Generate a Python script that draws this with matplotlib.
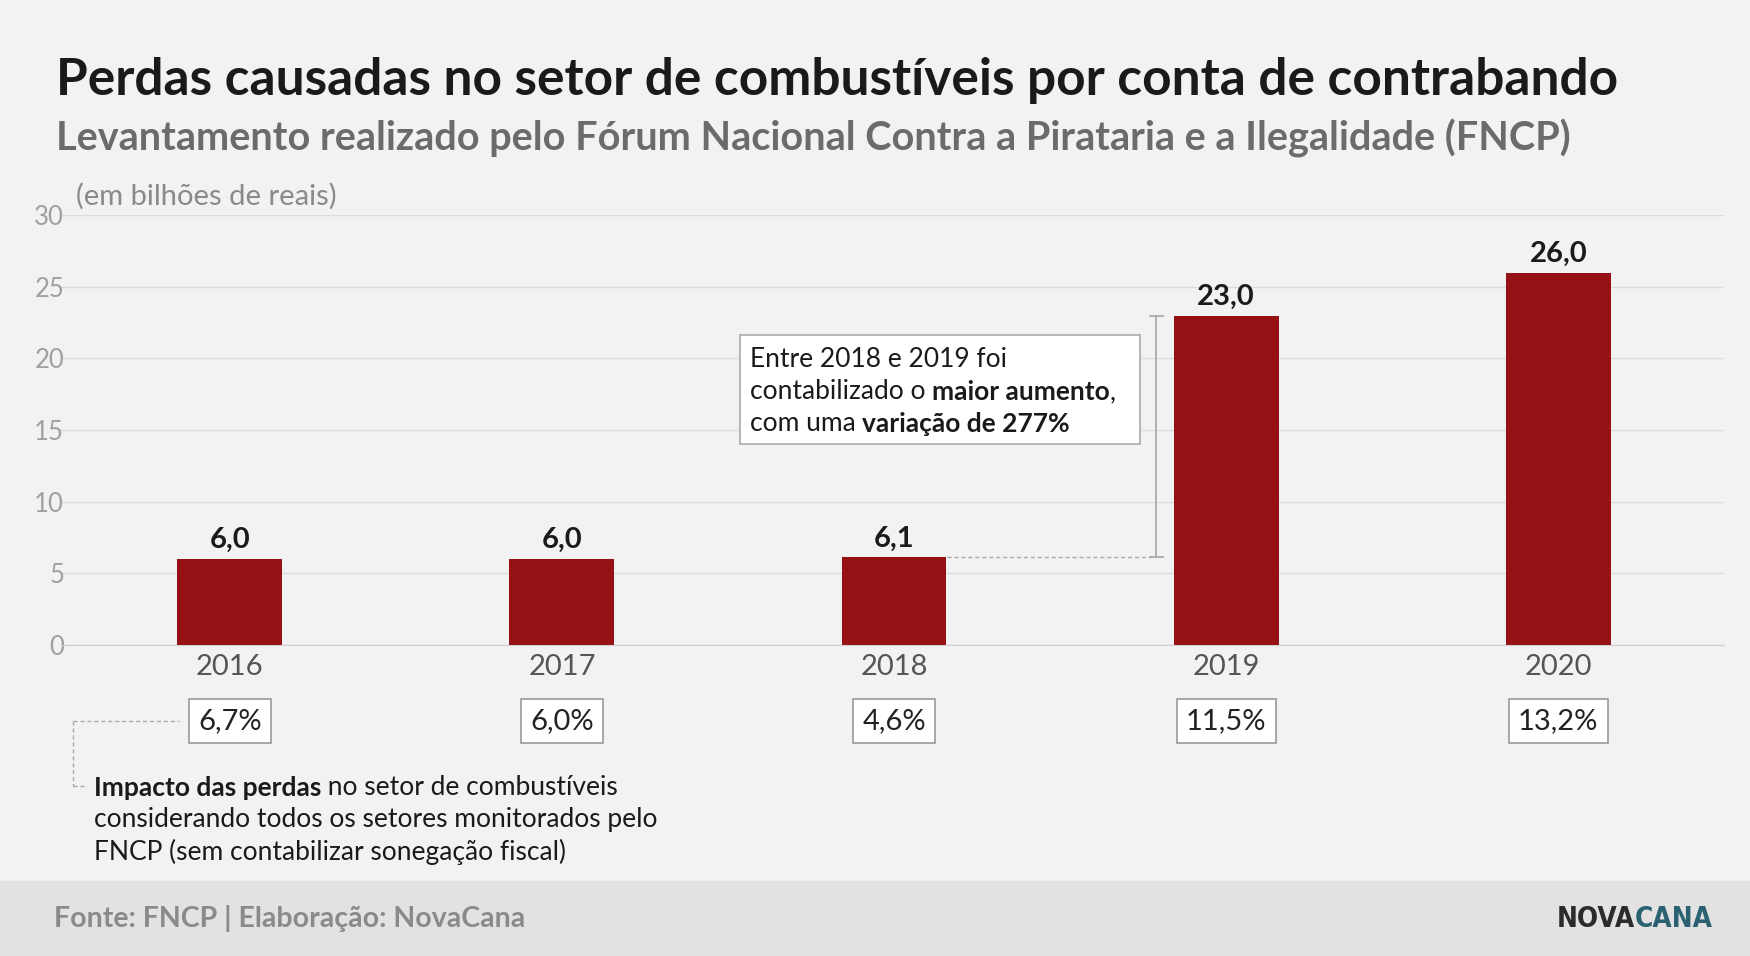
import matplotlib
matplotlib.use("Agg")
import matplotlib.pyplot as plt
from matplotlib.patches import Rectangle

plt.rcParams['font.family'] = ['Lato', 'DejaVu Sans']

anos = ['2016', '2017', '2018', '2019', '2020']
perdas = [6.0, 6.0, 6.1, 23.0, 26.0]
impacto = ['6,7%', '6,0%', '4,6%', '11,5%', '13,2%']
yticks = [0, 5, 10, 15, 20, 25, 30]

W, H = 1568.0, 857.0
fig = plt.figure(figsize=(17.5, 9.56), dpi=100)
fig.patch.set_facecolor('#f2f2f2')


def fx(x):
    return x / W


def fy(y):
    return 1 - y / H


fig.patches.append(Rectangle((0, 0), 1, fy(790), transform=fig.transFigure,
                             color='#e2e2e2', zorder=0))

fig.text(fx(50), fy(72), 'Perdas causadas no setor de combustíveis por conta de contrabando',
         fontsize=37, fontweight='bold', color='#1a1a1a', va='center')
fig.text(fx(50), fy(124), 'Levantamento realizado pelo Fórum Nacional Contra a Pirataria e a Ilegalidade (FNCP)',
         fontsize=28.5, fontweight='bold', color='#6b6b6b', va='center')
fig.text(fx(68), fy(176), '(em bilhões de reais)', fontsize=21, color='#8a8a8a', va='center')

ax = fig.add_axes([fx(55), fy(578), fx(1545) - fx(55), fy(193) - fy(578)])
ax.set_facecolor('none')
x = list(range(len(anos)))
ax.bar(x, perdas, width=0.316, color='#951114', zorder=3)
ax.set_xlim(-0.507, 4.5)
ax.set_ylim(0, 30)
ax.set_yticks(yticks)
ax.set_yticklabels([str(t) for t in yticks])
ax.grid(axis='y', color='#dcdcdc', lw=1, zorder=0)
for s in ax.spines.values():
    s.set_visible(False)
ax.spines['bottom'].set_visible(True)
ax.spines['bottom'].set_color('#cfcfcf')
ax.tick_params(axis='y', length=0, labelsize=18.5, labelcolor='#a0a0a0', pad=-2)
ax.set_xticks(x)
ax.set_xticklabels(anos)
ax.tick_params(axis='x', length=0, labelsize=21, labelcolor='#555555', pad=7)

for i, v in enumerate(perdas):
    ax.text(i, v + 0.4, f'{v:.1f}'.replace('.', ','), ha='center', va='bottom',
            fontsize=21, fontweight='bold', color='#1a1a1a')
    ax.annotate(impacto[i], (i, 0), xytext=(0, -55), textcoords='offset points',
                ha='center', va='center', fontsize=21, color='#222222',
                bbox=dict(boxstyle='square,pad=0.32', fc='white', ec='#999999', lw=1.2),
                annotation_clip=False)

# bracket 2018 -> 2019
bx = 2.79
ax.plot([2.16, bx], [6.1, 6.1], ls=(0, (3, 2)), color='#aaaaaa', lw=1, zorder=2)
ax.plot([bx, bx], [6.1, 23.0], color='#aaaaaa', lw=1.3)
ax.plot([bx - 0.02, bx + 0.02], [23.0, 23.0], color='#aaaaaa', lw=1.3)
ax.plot([bx - 0.02, bx + 0.02], [6.1, 6.1], color='#aaaaaa', lw=1.3)

fig.patches.append(Rectangle((fx(663), fy(398)), fx(1021) - fx(663), fy(300) - fy(398),
                             transform=fig.transFigure, fc='white', ec='#aaaaaa', lw=1.2, zorder=5))


def rich(xp, yp, parts, size, color='#1a1a1a'):
    r = fig.canvas.get_renderer()
    cx = xp
    for txt, bold in parts:
        t = fig.text(cx, yp, txt, fontsize=size, color=color, va='center', zorder=6,
                     fontweight='bold' if bold else 'normal')
        bb = t.get_window_extent(renderer=r)
        cx += bb.width / fig.bbox.width


rich(fx(672), fy(322), [('Entre 2018 e 2019 foi', False)], 19)
rich(fx(672), fy(351), [('contabilizado o ', False), ('maior aumento', True), (',', False)], 19)
rich(fx(672), fy(380), [('com uma ', False), ('variação de 277%', True)], 19)

# note
for xs, ys in [([65, 160], [646, 646]), ([65, 65], [646, 705]), ([65, 78], [705, 705])]:
    fig.lines.append(plt.Line2D([fx(v) for v in xs], [fy(v) for v in ys], transform=fig.transFigure,
                                ls=(0, (3, 2)), color='#aaaaaa', lw=1))
rich(fx(84), fy(706), [('Impacto das perdas', True), (' no setor de combustíveis', False)], 19)
rich(fx(84), fy(735), [('considerando todos os setores monitorados pelo', False)], 19)
rich(fx(84), fy(764), [('FNCP (sem contabilizar sonegação fiscal)', False)], 19)

fig.text(fx(48), fy(823), 'Fonte: FNCP | Elaboração: NovaCana', fontsize=20.5, fontweight='bold',
         color='#8a8a8a', va='center')
r = fig.canvas.get_renderer()
t1 = fig.text(fx(1395), fy(824), 'NOVA', fontsize=20, fontweight='bold', color='#2b2b2b',
              va='center', family='DejaVu Sans', stretch='condensed')
w1 = t1.get_window_extent(renderer=r).width / fig.bbox.width
fig.text(fx(1395) + w1, fy(824), 'CANA', fontsize=20, fontweight='bold', color='#2a6272',
         va='center', family='DejaVu Sans', stretch='condensed')

fig.savefig('out.png', dpi=100, facecolor=fig.get_facecolor())
